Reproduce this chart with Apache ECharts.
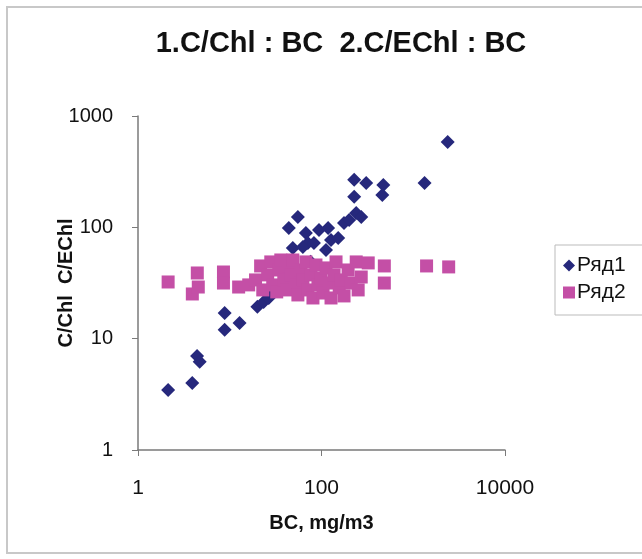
<!DOCTYPE html>
<html>
<head>
<meta charset="utf-8">
<script src="https://cdn.jsdelivr.net/npm/echarts@6/dist/echarts.min.js"></script>
<style>
html,body{margin:0;padding:0;background:#fff;}
#chart{width:642px;height:559px;}
</style>
</head>
<body>
<div id="chart"></div>
<script>
const titleText = '1.C/Chl : BC  2.C/EChl : BC';
const xName = 'BC, mg/m3';
const yName = 'C/Chl  C/EChl';
const seriesNames = ['Ряд1', 'Ряд2'];

// Ряд1 (C/Chl)
const s1X = [2.13, 3.9, 4.4, 4.7, 8.8, 8.8, 12.8, 20, 23.4, 26.6, 29.4, 55.3, 44, 67.6, 93.9, 118, 71, 48.7, 62.7, 82.7, 127, 152, 112, 176, 200, 239, 271, 227, 307, 472, 460, 227, 1328, 2372, 40, 76];
const s1Y = [3.46, 4.0, 7.0, 6.2, 12, 17, 13.8, 19.3, 21.4, 23.2, 27, 124, 98.8, 89, 94.8, 98.8, 72.4, 65.3, 66.6, 72.4, 77, 80.3, 62.6, 109.5, 116.5, 134.6, 124, 267, 250, 240, 195, 188, 250, 585, 46, 49];

// Ряд2 (C/EChl)
const s2X = [2.13, 3.91, 4.43, 4.54, 8.54, 8.54, 12.5, 16.1, 19.1, 21.7, 22.9, 25.9, 28, 29.4, 32.5, 34.2, 36, 38.8, 41.9, 44, 46.3, 48.7, 52.6, 55.3, 59.6, 62.7, 67.6, 71.1, 76.7, 80.7, 87, 91.5, 98.8, 104, 112, 121, 127, 137, 144, 156, 164, 176, 195, 211, 239, 251, 271, 323, 484, 484, 1397, 2433];
const s2Y = [32.3, 25.2, 38.9, 29.1, 39.7, 31.6, 29.1, 30.4, 33.7, 45, 27.4, 37.4, 48.9, 30.4, 26.3, 41.4, 50.9, 33.7, 27.4, 45, 37.4, 50.9, 30.4, 24.7, 41.4, 33.7, 48.9, 27.4, 37.4, 23.2, 45.9, 30.4, 35.1, 25.7, 43.2, 31.6, 23.2, 37.4, 48.9, 28.6, 33.7, 24.2, 41.4, 31.6, 48.9, 27.4, 35.8, 47.9, 45, 31.6, 45, 44.1];

const xTicks = [1, 100, 10000];
const yTicks = [1, 10, 100, 1000];

const zip = (a, b) => a.map((v, i) => [v, b[i]]);

const chart = echarts.init(document.getElementById('chart'), null, {renderer: 'canvas'});
const fontFam = '"Liberation Sans", Arial, sans-serif';

chart.setOption({
  backgroundColor: '#ffffff',
  animation: false,
  title: {
    text: titleText,
    left: 336,
    textAlign: 'center',
    top: 24,
    textStyle: {fontFamily: fontFam, fontSize: 29, fontWeight: 'bold', color: '#111'}
  },
  graphic: [{
    type: 'rect',
    shape: {x: 7, y: 7, width: 660, height: 546},
    style: {fill: 'none', stroke: '#c8c8c8', lineWidth: 2},
    silent: true,
    z: -1
  }],
  legend: {
    orient: 'vertical',
    left: 555,
    top: 245,
    padding: [10, 60, 12, 8],
    itemGap: 6,
    itemWidth: 12,
    itemHeight: 12,
    borderColor: '#bbbbbb',
    borderWidth: 1,
    textStyle: {fontFamily: fontFam, fontSize: 21, color: '#111', padding: [0, 0, 0, -3]},
    data: [
      {name: seriesNames[0], icon: 'diamond'},
      {name: seriesNames[1], icon: 'rect'}
    ]
  },
  grid: {left: 138, right: 137, top: 116, bottom: 109, containLabel: false},
  xAxis: {
    type: 'log',
    logBase: 100,
    min: xTicks[0],
    max: xTicks[xTicks.length - 1],
    name: xName,
    nameLocation: 'middle',
    nameGap: 63,
    nameTextStyle: {fontFamily: fontFam, fontSize: 20, fontWeight: 'bold', color: '#111'},
    axisLine: {lineStyle: {color: '#7a7a7a', width: 1.5}},
    axisTick: {show: true, inside: false, length: 6, lineStyle: {color: '#7a7a7a'}},
    minorTick: {show: false},
    splitLine: {show: false},
    axisLabel: {fontFamily: fontFam, fontSize: 21, color: '#111', margin: 28, formatter: v => String(v)}
  },
  yAxis: {
    type: 'log',
    logBase: 10,
    min: yTicks[0],
    max: yTicks[yTicks.length - 1],
    name: yName,
    nameLocation: 'middle',
    nameGap: 62,
    nameRotate: 90,
    nameMoveOverlap: false,
    nameTextStyle: {fontFamily: fontFam, fontSize: 20, fontWeight: 'bold', color: '#111'},
    axisLine: {show: true, lineStyle: {color: '#7a7a7a', width: 1.5}},
    axisTick: {show: true, inside: false, length: 6, lineStyle: {color: '#7a7a7a'}},
    splitLine: {show: false},
    axisLabel: {fontFamily: fontFam, fontSize: 20, color: '#111', margin: 25, formatter: v => String(v)}
  },
  series: [
    {
      name: seriesNames[0],
      type: 'scatter',
      symbol: 'diamond',
      symbolSize: 14,
      itemStyle: {color: '#26287c', opacity: 1},
      data: zip(s1X, s1Y)
    },
    {
      name: seriesNames[1],
      type: 'scatter',
      symbol: 'rect',
      symbolSize: 13,
      itemStyle: {color: '#c44fa6', opacity: 1},
      data: zip(s2X, s2Y)
    }
  ]
});
</script>
</body>
</html>
